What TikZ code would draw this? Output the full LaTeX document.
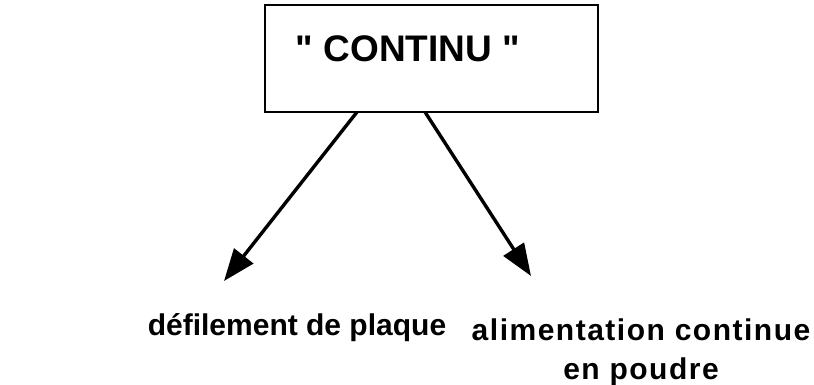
\documentclass[tikz,border=0pt]{standalone}
\usepackage{fontspec}
\setmainfont{Liberation Sans}
\newfontfamily\largeletters[LetterSpace=5]{Liberation Sans}
\newfontfamily\titlefont[Ligatures=TeXOff]{Liberation Sans}
\usetikzlibrary{arrows.meta, positioning}

\tikzset{
  modebox/.style={draw, line width=2.6pt, minimum width=333pt, minimum height=107pt},
  modetext/.style={font=\fontsize{37}{40}\titlefont\bfseries, inner sep=0pt},
  flow/.style={line width=3.4pt, -{Triangle[length=32pt,width=24pt]}},
  outlabel/.style={font=\fontsize{30}{38}\selectfont\bfseries, align=center, inner sep=0pt}
}

\begin{document}
\begin{tikzpicture}[x=1pt, y=-1pt]
\useasboundingbox (0,0) rectangle (814,385);
\node[modebox] (continu) at (431.5,58.5) {};
\node[modetext] (titre) at (408,49) {" CONTINU "};
% departs des fleches sur le bord bas
\coordinate (depG) at (357,112);
\coordinate (depD) at (425,112);
\coordinate (finG) at (224,281);
\coordinate (finD) at (531,276);
\draw[flow] (depG) -- (finG);
\draw[flow] (depD) -- (finD);
\node[outlabel] (plaque) at (297,328) {défilement de plaque};
\node[outlabel, font=\fontsize{30}{39}\selectfont\largeletters\bfseries] (poudre) at (641,352) {alimentation continue\\en poudre};
\end{tikzpicture}
\end{document}
